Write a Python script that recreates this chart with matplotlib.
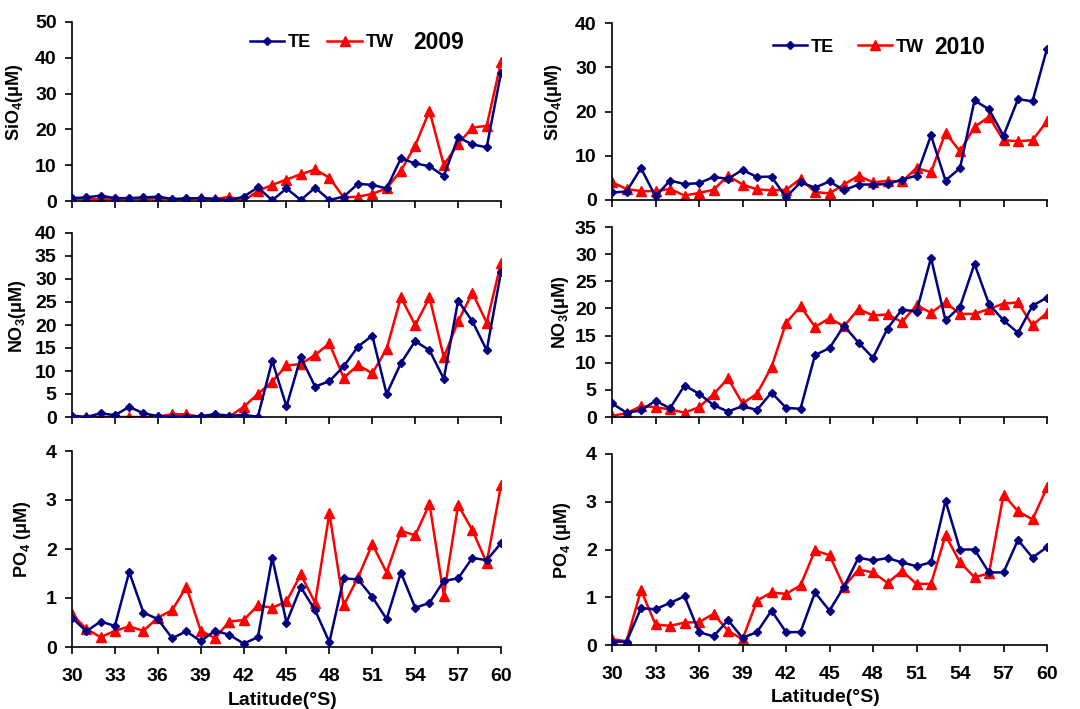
import numpy as np
import matplotlib
matplotlib.use("Agg")
import matplotlib.pyplot as plt

plt.rcParams['font.family'] = ['Liberation Sans', 'DejaVu Sans']
plt.rcParams['font.weight'] = 'bold'
plt.rcParams['mathtext.fontset'] = 'custom'
plt.rcParams['mathtext.rm'] = 'Liberation Sans:bold'
plt.rcParams['mathtext.bf'] = 'Liberation Sans:bold'
plt.rcParams['mathtext.default'] = 'rm'

lat = np.arange(30, 61)

# 2009
sio4_te_2009 = [0.8, 1.0, 1.5, 0.8, 0.8, 1.0, 1.2, 0.6, 0.7, 0.8, 0.6, 0.2, 1.2, 3.8, 0.2, 3.5,
                0.3, 3.7, 0.3, 1.2, 4.8, 4.5, 3.5, 11.9, 10.5, 9.7, 7.0, 17.8, 15.8, 15.0, 35.8]
sio4_tw_2009 = [0.5, 0.5, 0.5, 0.5, 0.5, 0.5, 0.8, 0.4, 0.6, 0.7, 0.5, 1.2, 0.0, 2.8, 4.5, 6.0,
                7.5, 8.8, 6.5, 1.0, 1.2, 2.0, 3.5, 8.5, 15.5, 25.2, 10.0, 16.0, 20.5, 21.0, 38.8]
no3_te_2009 = [0.3, 0.0, 0.8, 0.4, 2.2, 0.8, 0.2, 0.1, 0.1, 0.2, 0.6, 0.3, 0.4, 0.1, 12.2, 2.3,
               13.0, 6.6, 7.8, 11.0, 15.3, 17.7, 5.0, 11.7, 16.5, 14.5, 8.3, 25.3, 20.8, 14.5, 31.5]
no3_tw_2009 = [0.0, 0.0, 0.0, 0.0, 0.0, 0.0, 0.1, 0.6, 0.6, 0.0, 0.1, 0.1, 2.2, 5.0, 7.7, 11.2,
               11.5, 13.5, 16.0, 8.5, 11.3, 9.5, 14.8, 26.0, 20.0, 26.0, 13.0, 20.8, 27.0, 20.5, 33.5]
po4_te_2009 = [0.60, 0.32, 0.52, 0.43, 1.53, 0.70, 0.57, 0.18, 0.32, 0.12, 0.33, 0.25, 0.07, 0.20,
               1.82, 0.50, 1.22, 0.75, 0.10, 1.40, 1.38, 1.02, 0.57, 1.52, 0.80, 0.90, 1.35, 1.40,
               1.82, 1.77, 2.12]
po4_tw_2009 = [0.67, 0.37, 0.20, 0.33, 0.42, 0.33, 0.60, 0.75, 1.23, 0.33, 0.18, 0.52, 0.55, 0.85,
               0.80, 0.93, 1.48, 0.90, 2.73, 0.85, 1.42, 2.10, 1.52, 2.37, 2.28, 2.92, 1.05, 2.90,
               2.38, 1.72, 3.30]

# 2010
sio4_te_2010 = [1.7, 1.9, 7.2, 0.8, 4.4, 3.6, 3.8, 5.2, 4.8, 6.8, 5.2, 5.3, 0.6, 4.0, 2.8, 4.2,
                2.2, 3.5, 3.5, 3.6, 4.6, 5.5, 14.6, 4.4, 7.2, 22.5, 20.5, 14.5, 22.8, 22.3, 34.2]
sio4_tw_2010 = [4.0, 2.5, 2.0, 2.0, 2.5, 1.0, 1.6, 2.3, 5.5, 3.5, 2.4, 2.2, 2.3, 4.8, 1.8, 1.5,
                3.5, 5.5, 4.0, 4.3, 4.2, 7.2, 6.3, 15.2, 11.0, 16.5, 18.8, 13.5, 13.3, 13.5, 17.8]
no3_te_2010 = [2.5, 0.8, 1.2, 3.0, 1.6, 5.8, 4.3, 2.2, 1.0, 2.0, 1.3, 4.5, 1.7, 1.5, 11.4, 12.7,
               16.8, 13.7, 10.9, 16.3, 19.8, 19.4, 29.3, 17.8, 20.3, 28.2, 20.8, 17.8, 15.5, 20.5, 22.0]
no3_tw_2010 = [0.2, 0.7, 2.0, 1.8, 1.4, 0.8, 1.8, 4.2, 7.1, 2.5, 4.3, 9.2, 17.3, 20.4, 16.6, 18.2,
               16.7, 19.9, 18.7, 18.9, 17.5, 20.6, 19.2, 21.1, 19.0, 19.0, 19.9, 20.9, 21.1, 16.9, 19.2]
po4_te_2010 = [0.07, 0.07, 0.77, 0.75, 0.88, 1.02, 0.27, 0.18, 0.52, 0.15, 0.27, 0.72, 0.27, 0.27,
               1.10, 0.72, 1.22, 1.83, 1.77, 1.82, 1.73, 1.65, 1.73, 3.02, 2.00, 2.00, 1.52, 1.52,
               2.20, 1.83, 2.05]
po4_tw_2010 = [0.12, 0.08, 1.15, 0.43, 0.40, 0.47, 0.48, 0.65, 0.30, 0.12, 0.93, 1.10, 1.07, 1.25,
               1.98, 1.88, 1.22, 1.58, 1.52, 1.30, 1.55, 1.28, 1.28, 2.30, 1.73, 1.42, 1.50, 3.15,
               2.80, 2.63, 3.30]

xticks = np.arange(30, 61, 3)
te_color = '#000080'
tw_color = '#ff0000'

W, H = 1080, 709
fig = plt.figure(figsize=(W / 100, H / 100), dpi=100)


def make_ax(x0, x1, y0, y1):
    # pixel box -> figure fraction
    return fig.add_axes([x0 / W, 1 - y1 / H, (x1 - x0) / W, (y1 - y0) / H])


panels = [
    # (box, te, tw, ylim, ystep, ylabel, label x, bottom row)
    ((72, 501, 22, 201), sio4_te_2009, sio4_tw_2009, 50, 10, 'SiO$_4$(μM)', -0.11, False),
    ((612, 1047, 23, 200), sio4_te_2010, sio4_tw_2010, 40, 10, 'SiO$_4$(μM)', -0.11, False),
    ((72, 501, 233, 417), no3_te_2009, no3_tw_2009, 40, 5, 'NO$_3$(μM)', -0.103, False),
    ((612, 1047, 227, 417), no3_te_2010, no3_tw_2010, 35, 5, 'NO$_3$(μM)', -0.095, False),
    ((72, 501, 451, 647), po4_te_2009, po4_tw_2009, 4, 1, 'PO$_4$ (μM)', -0.091, True),
    ((612, 1047, 454, 645), po4_te_2010, po4_tw_2010, 4, 1, 'PO$_4$ (μM)', -0.09, True),
]

axes = []
for box, te, tw, ymax, ystep, ylabel, lx, bottom in panels:
    ax = make_ax(*box)
    ax.plot(lat, te, color=te_color, marker='D', markersize=4.5, lw=1.8, label='TE', zorder=3)
    ax.plot(lat, tw, color=tw_color, marker='^', markersize=6.5, lw=1.8, label='TW', zorder=2)
    ax.set_xlim(30, 60)
    ax.set_ylim(0, ymax)
    ax.set_yticks(np.arange(0, ymax + 0.001, ystep))
    ax.set_xticks(xticks)
    ax.spines['top'].set_visible(False)
    ax.spines['right'].set_visible(False)
    ax.spines['left'].set_linewidth(1.2)
    ax.spines['bottom'].set_linewidth(1.2)
    ax.tick_params(axis='both', direction='out', length=5, width=1.2, labelsize=14)
    ax.tick_params(axis='y', pad=6)
    ax.tick_params(axis='x', pad=10)
    for lab in ax.get_xticklabels() + ax.get_yticklabels():
        lab.set_fontweight('bold')
    if not bottom:
        ax.set_xticklabels([])
    else:
        ax.set_xlabel('Latitude(°S)', fontsize=14, fontweight='bold')
        ax.xaxis.set_label_coords(0.49, -0.232)
    ax.set_ylabel(ylabel, fontsize=13, fontweight='bold')
    ax.yaxis.set_label_coords(lx, 0.55)
    axes.append(ax)

# legends with year
for ax, year, lx, ly, tx, hl, csp in [(axes[0], '2009', 0.415, 0.883, 0.795, 1.9, 0.9),
                                      (axes[1], '2010', 0.37, 0.864, 0.74, 1.9, 1.3)]:
    ax.legend(loc='center left', bbox_to_anchor=(lx, ly), ncol=2, frameon=False,
              fontsize=13, handlelength=hl, handletextpad=0.2, columnspacing=csp,
              borderpad=0, borderaxespad=0)
    ax.text(tx, ly, year, transform=ax.transAxes, fontsize=16.5, fontweight='bold',
            va='center', ha='left')

fig.savefig('out.png', dpi=100)
